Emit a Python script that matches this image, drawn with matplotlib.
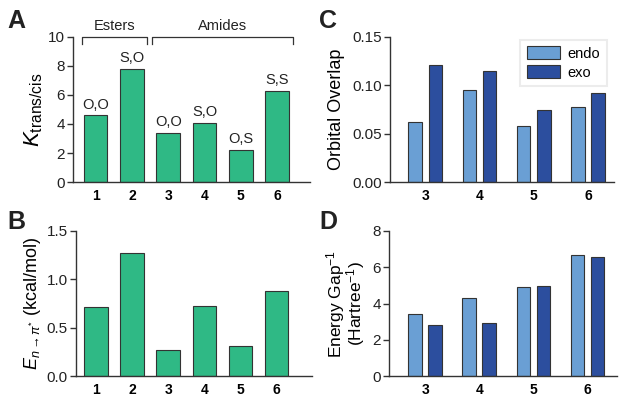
import numpy as np
import matplotlib
matplotlib.use("Agg")
import matplotlib.pyplot as plt

plt.rcParams['font.family'] = ['Liberation Sans', 'DejaVu Sans']
plt.rcParams['mathtext.fontset'] = 'custom'
plt.rcParams['mathtext.rm'] = 'Liberation Sans'
plt.rcParams['mathtext.it'] = 'Liberation Sans:italic'
plt.rcParams['mathtext.bf'] = 'Liberation Sans:bold'

# данные
compounds = ['1', '2', '3', '4', '5', '6']
k_trans_cis = [4.6, 7.8, 3.4, 4.1, 2.2, 6.3]
k_labels = ['O,O', 'S,O', 'O,O', 'S,O', 'O,S', 'S,S']
e_npi = [0.71, 1.27, 0.27, 0.72, 0.31, 0.88]

amides = ['3', '4', '5', '6']
overlap_endo = [0.062, 0.095, 0.058, 0.078]
overlap_exo = [0.121, 0.115, 0.074, 0.092]
gap_endo = [3.4, 4.3, 4.9, 6.65]
gap_exo = [2.8, 2.95, 4.95, 6.55]

green = '#2fb985'
light_blue = '#6a9fd4'
dark_blue = '#2c4e9e'
edge = '#333333'

fig = plt.figure(figsize=(6.24, 4.01), dpi=100)
axA = fig.add_axes([0.117, 0.546, 0.380, 0.362])
axB = fig.add_axes([0.122, 0.062, 0.378, 0.362])
axC = fig.add_axes([0.625, 0.546, 0.359, 0.362])
axD = fig.add_axes([0.624, 0.062, 0.365, 0.362])


def style(ax):
    for s in ('top', 'right'):
        ax.spines[s].set_visible(False)
    for s in ('left', 'bottom'):
        ax.spines[s].set_color(edge)
        ax.spines[s].set_linewidth(1.0)
    ax.tick_params(axis='y', direction='out', length=4, width=1.0, color=edge,
                   labelsize=11, labelcolor='#222222', pad=2)
    ax.tick_params(axis='x', length=0, labelsize=10, pad=5)
    for lab in ax.get_xticklabels():
        lab.set_fontweight('bold')


# A
x6 = np.arange(1, 7)
axA.bar(x6, k_trans_cis, width=0.65, color=green, edgecolor=edge, linewidth=0.8)
for xi, v, t in zip(x6, k_trans_cis, k_labels):
    axA.text(xi, v + 0.25, t, ha='center', va='bottom', fontsize=10.5, color='#222222')
axA.set_xlim(0.38, 6.91)
axA.set_ylim(0, 10)
axA.set_yticks([0, 2, 4, 6, 8, 10])
axA.set_xticks(x6)
axA.set_xticklabels(compounds)
axA.set_ylabel(r'$K_{\mathrm{trans/cis}}$', fontsize=16, labelpad=2)
# скобки Esters / Amides
for x0, x1, name in ((0.62, 2.41, 'Esters'), (2.55, 6.43, 'Amides')):
    axA.plot([x0, x0, x1, x1], [9.5, 10, 10, 9.5], color=edge, lw=0.9, clip_on=False)
    axA.text((x0 + x1) / 2, 10.25, name, ha='center', va='bottom', fontsize=10.5, color='#222222')
style(axA)

# B
axB.bar(x6, e_npi, width=0.65, color=green, edgecolor=edge, linewidth=0.8)
axB.set_xlim(0.45, 6.98)
axB.set_ylim(0, 1.5)
axB.set_yticks([0, 0.5, 1.0, 1.5])
axB.set_yticklabels(['0.0', '0.5', '1.0', '1.5'])
axB.set_xticks(x6)
axB.set_xticklabels(compounds)
axB.set_ylabel(r'$E_{n\rightarrow\pi^{*}}$ (kcal/mol)', fontsize=13, labelpad=3)
style(axB)

# C
x4 = np.arange(3, 7)
off = 0.185
w = 0.25
axC.bar(x4 - off, overlap_endo, width=w, color=light_blue, edgecolor=edge, linewidth=0.8, label='endo')
axC.bar(x4 + off, overlap_exo, width=w, color=dark_blue, edgecolor=edge, linewidth=0.8, label='exo')
axC.set_xlim(2.35, 6.48)
axC.set_ylim(0, 0.15)
axC.set_yticks([0, 0.05, 0.10, 0.15])
axC.set_yticklabels(['0.00', '0.05', '0.10', '0.15'])
axC.set_xticks(x4)
axC.set_xticklabels(amides)
axC.set_ylabel('Orbital Overlap', fontsize=13, labelpad=5)
leg = axC.legend(loc='upper right', bbox_to_anchor=(1.0, 1.03), fontsize=10.5, frameon=True,
                 fancybox=False, handlelength=2.3, handleheight=1.0, borderpad=0.45,
                 labelspacing=0.3, handletextpad=0.5)
leg.get_frame().set_edgecolor('#e8e8e8')
leg.get_frame().set_linewidth(1.5)
style(axC)

# D
axD.bar(x4 - off, gap_endo, width=w, color=light_blue, edgecolor=edge, linewidth=0.8)
axD.bar(x4 + off, gap_exo, width=w, color=dark_blue, edgecolor=edge, linewidth=0.8)
axD.set_xlim(2.34, 6.55)
axD.set_ylim(0, 8)
axD.set_yticks([0, 2, 4, 6, 8])
axD.set_xticks(x4)
axD.set_xticklabels(amides)
axD.set_ylabel('Energy Gap$^{-1}$\n(Hartree$^{-1}$)', fontsize=12.5, labelpad=4, linespacing=0.85)
style(axD)

# буквы панелей
for xf, yf, letter in ((0.012, 0.93, 'A'), (0.012, 0.43, 'B'), (0.512, 0.93, 'C'), (0.512, 0.43, 'D')):
    fig.text(xf, yf, letter, fontsize=18, fontweight='bold', color='#222222')

fig.savefig('out.png', dpi=100)
